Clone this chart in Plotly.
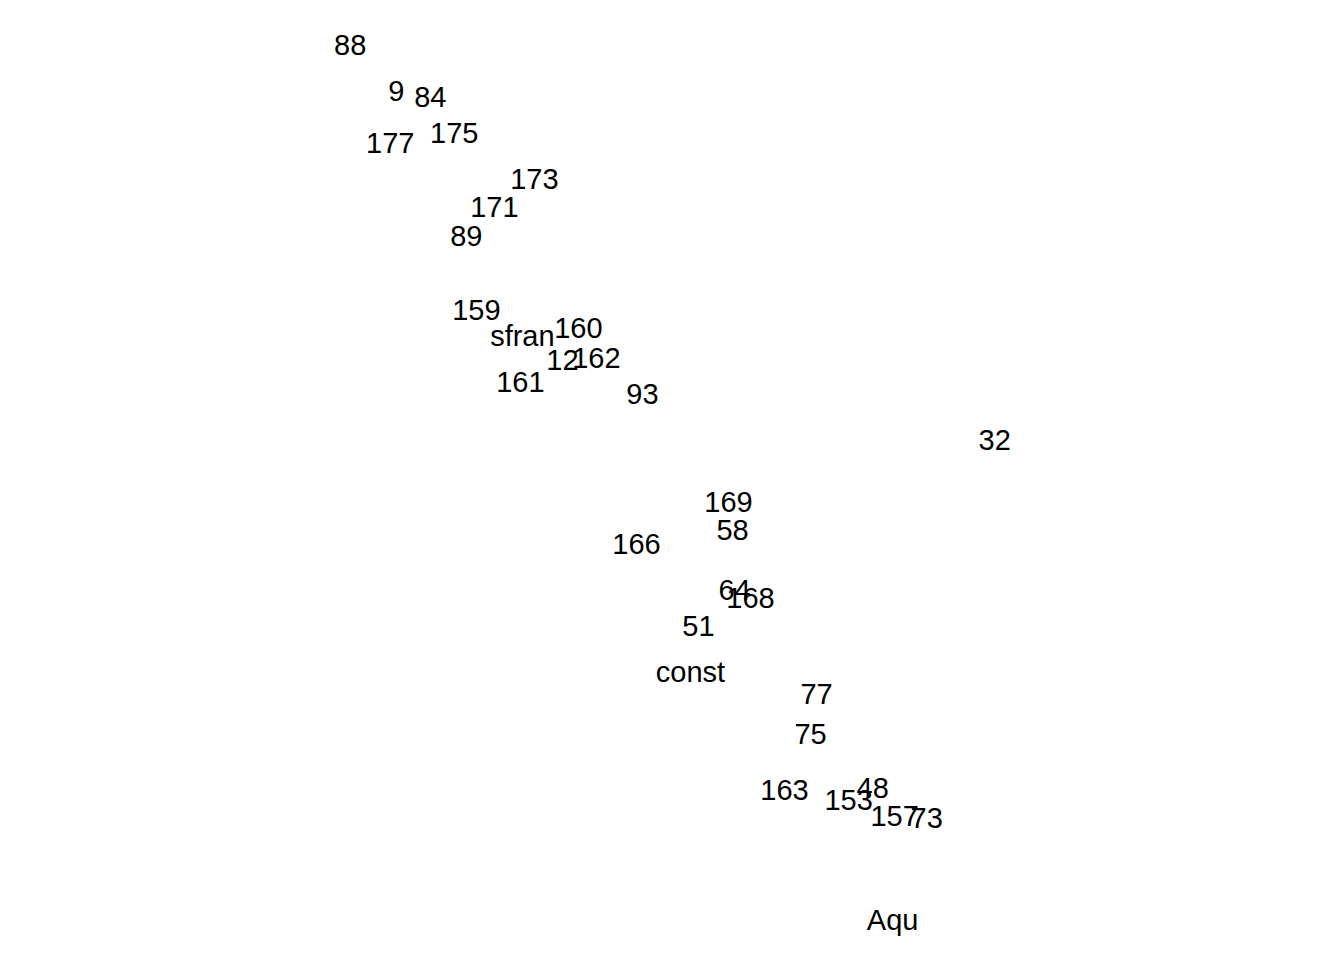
import plotly.graph_objects as go

# labels and their coordinates on the two (hidden) axes
labels = ["88", "9", "84", "177", "175", "173", "171", "89", "159", "sfran",
          "160", "12", "162", "161", "93", "32", "169", "58", "166", "64",
          "168", "51", "const", "77", "75", "163", "153", "48", "157", "73",
          "Aqu"]
x_vals = [-1.45, -1.22, -1.05, -1.25, -0.93, -0.53, -0.73, -0.87, -0.82, -0.59,
          -0.31, -0.39, -0.22, -0.60, 0.01, 1.77, 0.44, 0.46, -0.02, 0.47,
          0.55, 0.29, 0.25, 0.88, 0.85, 0.72, 1.04, 1.16, 1.27, 1.43,
          1.26]
y_vals = [2.17, 1.94, 1.91, 1.68, 1.73, 1.50, 1.36, 1.22, 0.85, 0.72,
          0.76, 0.60, 0.61, 0.49, 0.43, 0.20, -0.11, -0.25, -0.32, -0.55,
          -0.59, -0.73, -0.96, -1.07, -1.27, -1.55, -1.60, -1.54, -1.68, -1.69,
          -2.20]

fig = go.Figure()
fig.add_trace(go.Scatter(
    x=x_vals, y=y_vals, mode="text", text=labels,
    textposition="middle center",
    textfont=dict(family="Liberation Sans, Arial", size=29, color="black"),
    hoverinfo="text",
    cliponaxis=False
))

axis = dict(showgrid=False, zeroline=False, showline=False,
            showticklabels=False, ticks="", title="")
fig.update_layout(
    width=1344, height=960,
    margin=dict(l=0, r=0, t=0, b=0),
    paper_bgcolor="white", plot_bgcolor="white",
    showlegend=False,
    xaxis=dict(axis, range=[-3.035, 3.555]),
    yaxis=dict(axis, range=[-2.30, 2.37]),
)

fig.write_html("out.html")
